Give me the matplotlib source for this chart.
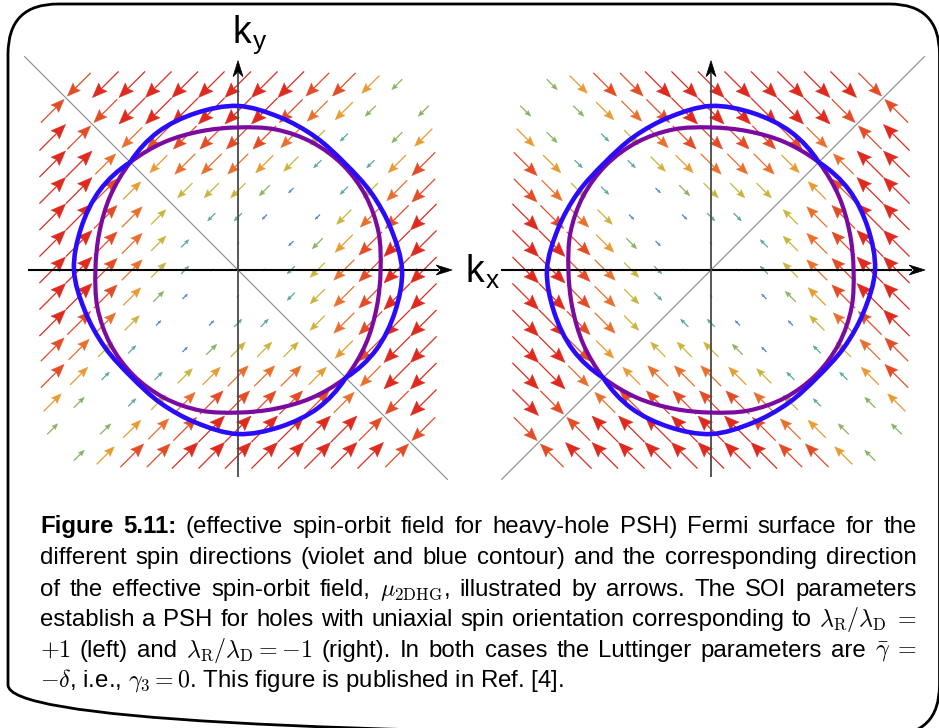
import numpy as np
import matplotlib
matplotlib.use("Agg")
import matplotlib.pyplot as plt
from matplotlib.path import Path
from matplotlib.patches import PathPatch, Polygon, FancyBboxPatch
from matplotlib.collections import LineCollection, PolyCollection

plt.rcParams['font.family'] = ['Liberation Sans', 'DejaVu Sans']
plt.rcParams['mathtext.fontset'] = 'cm'

W, H = 939, 728
PX = 26.5  # pixels per k-grid step

# ---------------------------------------------------------------- data
k_grid = list(range(-7, 8))  # kx (columns) and ky (rows) grid points

# signed strength of the effective spin-orbit field (0..9 scale)
# rows: ky = 7 ... -7, columns: kx = -7 ... 7 ; sign > 0 -> along +(1, 1)
field_strength = [
    [0, -8, -9, -9, -9, -9, -9, -9, -9, -9, -8, -8, -6, -4, 0],
    [8, 0, -8, -9, -9, -9, -9, -9, -9, -8, -7, -6, -4, 0, -4],
    [9, 8, 0, -7, -8, -8, -8, -8, -8, -7, -5, -3, 0, -4, -6],
    [9, 9, 7, 0, -6, -7, -7, -7, -6, -5, -3, 0, -3, -6, -8],
    [9, 9, 8, 6, 0, -5, -5, -5, -4, -2, 0, -3, -5, -7, -8],
    [9, 9, 8, 7, 5, 0, -3, -3, -2, 0, -2, -5, -7, -8, -9],
    [9, 9, 8, 7, 5, 3, 0, -1, 0, -2, -4, -6, -8, -9, -9],
    [9, 9, 8, 7, 5, 3, 1, 0, -1, -3, -5, -7, -8, -9, -9],
    [9, 9, 8, 6, 4, 2, 0, 1, 0, -3, -5, -7, -8, -9, -9],
    [9, 8, 7, 5, 2, 0, 2, 3, 3, 0, -5, -7, -8, -9, -9],
    [8, 7, 5, 3, 0, 2, 4, 5, 5, 5, 0, -6, -8, -9, -9],
    [8, 6, 3, 0, 3, 5, 6, 7, 7, 7, 6, 0, -7, -9, -9],
    [6, 4, 0, 3, 5, 7, 8, 8, 8, 8, 8, 7, 0, -8, -9],
    [4, 0, 4, 6, 7, 8, 9, 9, 9, 9, 9, 9, 8, 0, -8],
    [0, 4, 6, 8, 8, 9, 9, 9, 9, 9, 9, 9, 9, 8, 0],
]

# Fermi contours (radius in grid units) at polar angles, left panel
contour_angles = [0, 15, 30, 45, 60, 75, 90, 105, 120, 135, 150, 165,
                  180, 195, 210, 225, 240, 255, 270, 285, 300, 315, 330, 345]
blue_radius = [6.19, 5.98, 5.81, 5.70, 5.81, 5.98, 6.19, 6.13, 6.02, 5.75, 6.02, 6.13,
               6.19, 5.98, 5.81, 5.70, 5.81, 5.98, 6.19, 6.13, 6.02, 5.75, 6.02, 6.13]
violet_radius = [5.38, 5.49, 5.57, 5.60, 5.57, 5.49, 5.38, 5.42, 5.57, 5.75, 5.57, 5.42,
                 5.38, 5.49, 5.57, 5.60, 5.57, 5.49, 5.38, 5.42, 5.57, 5.75, 5.57, 5.42]
kink_angles = [135, 315]  # the two contours cross where the field vanishes

caption_lines = [
    [("Figure", "bold"), ("5.11:", "bold"), "(effective", "spin-orbit", "field", "for",
     "heavy-hole", "PSH)", "Fermi", "surface", "for", "the"],
    "different spin directions (violet and blue contour) and the corresponding direction".split(),
    ["of", "the", "effective", "spin-orbit", "field,", r"$\mu_{\mathrm{2DHG}}$,", "illustrated",
     "by", "arrows.", "The", "SOI", "parameters"],
    "establish a PSH for holes with uniaxial spin orientation corresponding to".split()
    + [r"$\lambda_{\mathrm{R}}/\lambda_{\mathrm{D}}\;=$"],
    [r"$+1$", "(left)", "and", r"$\lambda_{\mathrm{R}}/\lambda_{\mathrm{D}}=-1$", "(right).",
     "In", "both", "cases", "the", "Luttinger", "parameters", "are", r"$\bar{\gamma}\;=$"],
]
caption_last = r"$-\delta$, i.e., $\gamma_3=0$. This figure is published in Ref. [4]."

# ---------------------------------------------------------------- styles
level_colors = ['#ffffff', '#5a5ae0', '#4f80d8', '#58a89c', '#86b45e', '#cab43a',
                '#e99a30', '#e9702c', '#e44c26', '#df2b1f']
level_len_px = [0, 3, 7, 11, 15, 21, 25, 29, 33, 37]

fig = plt.figure(figsize=(W / 100, H / 100), dpi=100)


def px_axes(x0, x1, y0, y1, ox, oy):
    """Axes covering pixel box [x0,x1]x[y0,y1] with origin at pixel (ox, oy)."""
    ax = fig.add_axes([x0 / W, 1 - y1 / H, (x1 - x0) / W, (y1 - y0) / H])
    ax.set_xlim((x0 - ox) / PX, (x1 - ox) / PX)
    ax.set_ylim((oy - y1) / PX, (oy - y0) / PX)
    ax.axis('off')
    return ax


def arrow_head(tip, u, length, width, notch=0.15):
    n = np.array([-u[1], u[0]])
    base = tip - u * length
    return [tip, base + n * width / 2, base + u * length * notch, base - n * width / 2]


def contour_path(radii, mirror):
    th = np.deg2rad(contour_angles)
    r = np.asarray(radii)
    x, y = r * np.cos(th), r * np.sin(th)
    if mirror:
        x = -x
    n = len(th)
    b0 = contour_angles.index(kink_angles[0])
    b1 = contour_angles.index(kink_angles[1])
    verts, codes = [], []
    for a, b in [(b0, b1), (b1, b0 + n)]:
        idx = [i % n for i in range(a, b + 1)]
        P = np.column_stack([x[idx], y[idx]])
        m = len(P)
        ext = np.vstack([3 * P[0] - 3 * P[1] + P[2], P, 3 * P[-1] - 3 * P[-2] + P[-3]])
        if not verts:
            verts.append(P[0]); codes.append(Path.MOVETO)
        for k in range(m - 1):
            p0, p1, p2, p3 = ext[k], ext[k + 1], ext[k + 2], ext[k + 3]
            verts += [p1 + (p2 - p0) / 6, p2 - (p3 - p1) / 6, p2]
            codes += [Path.CURVE4] * 3
    return Path(verts, codes)


def draw_panel(ax, mirror):
    sgn = -1 if mirror else 1
    # vector field
    shafts, cols, heads = [], [], []
    for row, ky in enumerate(k_grid[::-1]):
        for col, kx in enumerate(k_grid):
            s = field_strength[row][col]
            if s == 0:
                continue
            lev = abs(s)
            L = level_len_px[lev] / PX
            u = np.array([sgn, 1.0]) / np.sqrt(2) * np.sign(s)
            c = np.array([sgn * kx, ky], float)
            tip, tail = c + u * L / 2, c - u * L / 2
            hl, hw = 0.40 * L, 0.32 * L
            shafts.append([tail, tip - u * hl * 0.8])
            heads.append(arrow_head(tip, u, hl, hw))
            cols.append(level_colors[lev])
    ax.add_collection(LineCollection(shafts, colors=cols, linewidths=0.9, zorder=2))
    ax.add_collection(PolyCollection(heads, facecolors=cols, edgecolors=cols,
                                     linewidths=0.3, zorder=2))
    # diagonal where the field reverses
    ax.plot([-8.05 * sgn, 7.9 * sgn], [8.05, -7.9], color='#8a8a8a', lw=0.8, zorder=3)
    # coordinate axes with arrowheads
    hl, hw = 16 / PX, 10 / PX
    ax.plot([-7.92, 8.08 - hl * 0.8], [0, 0], color='black', lw=1.5, zorder=4,
            solid_capstyle='butt')
    ax.plot([0, 0], [-7.8, 7.9 - hl * 0.8], color='#4a4a4a', lw=1.3, zorder=4,
            solid_capstyle='butt')
    ax.add_patch(Polygon(arrow_head(np.array([8.08, 0]), np.array([1.0, 0]), hl, hw, 0.3),
                         closed=True, fc='black', ec='black', lw=0.5, zorder=4))
    ax.add_patch(Polygon(arrow_head(np.array([0, 7.9]), np.array([0, 1.0]), hl, hw, 0.3),
                         closed=True, fc='black', ec='black', lw=0.5, zorder=4))
    # Fermi contours
    ax.add_patch(PathPatch(contour_path(violet_radius, mirror), fc='none', ec='#7b0aa0',
                           lw=3.0, zorder=5, joinstyle='round'))
    ax.add_patch(PathPatch(contour_path(blue_radius, mirror), fc='none', ec='#2a0cfa',
                           lw=3.3, zorder=6, joinstyle='round'))


ax_left = px_axes(20, 462, 40, 500, 238, 270)
ax_right = px_axes(492, 934, 40, 500, 711, 270)
draw_panel(ax_left, False)
draw_panel(ax_right, True)

# overlay in pixel units: frame, axis labels, caption
ov = fig.add_axes([0, 0, 1, 1], zorder=10)
ov.set_xlim(0, W); ov.set_ylim(H, 0); ov.axis('off')
ov.patch.set_alpha(0)
ov.add_patch(FancyBboxPatch((8, 4), 931.5, 731, boxstyle="round,pad=0,rounding_size=50",
                            fc='none', ec='black', lw=2.0, clip_on=False))

ov.text(232, 43, r"k$_\mathregular{y}$", fontsize=27, va='baseline', ha='left')
ov.text(465, 283, r"k$_\mathregular{x}$", fontsize=27, va='baseline', ha='left')

cap_fs = 17.3
x_left, x_right = 40, 917
baselines = [533, 564, 596, 626, 657, 687]
renderer = fig.canvas.get_renderer()
for line, yb in zip(caption_lines, baselines):
    texts = []
    for tok in line:
        word, weight = (tok if isinstance(tok, tuple) else (tok, 'normal'))
        texts.append(ov.text(0, yb, word, fontsize=cap_fs, fontweight=weight,
                             va='baseline', ha='left'))
    widths = [t.get_window_extent(renderer).width for t in texts]
    gap = (x_right - x_left - sum(widths)) / (len(texts) - 1)
    x = x_left
    for t, w in zip(texts, widths):
        t.set_x(x)
        x += w + gap
ov.text(x_left, baselines[5], caption_last, fontsize=cap_fs, va='baseline', ha='left')

fig.savefig("out.png", dpi=100)
